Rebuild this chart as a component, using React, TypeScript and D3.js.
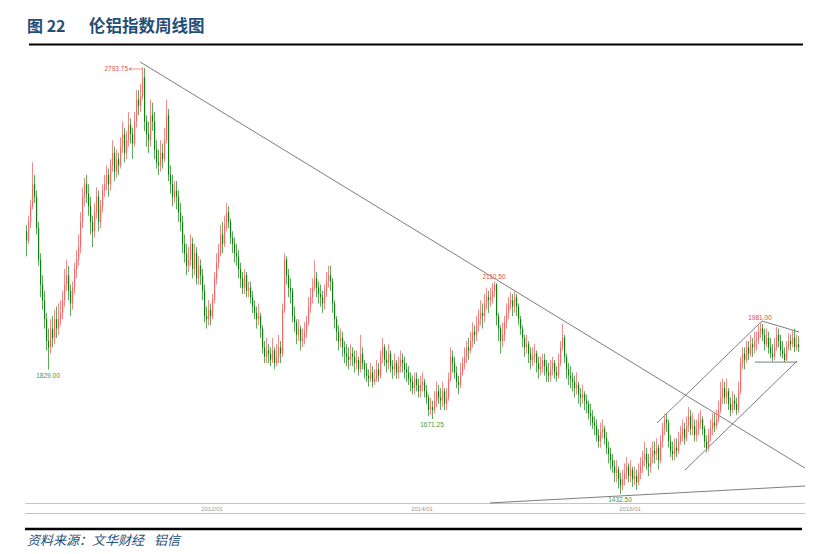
import React from "react";
import * as d3 from "d3";

// Weekly LME aluminium index, candle index 0 = 2010/03 week
const closes = [
2240,2300,2350,2420,2380,2280,2180,2100,2050,1990,1920,1900,1960,1930,1990,1960,1990,2010,2050,2100,
2130,2080,2040,2090,2150,2180,2220,2300,2380,2420,2390,2350,2300,2270,2330,2380,2300,2350,2400,2420,
2450,2420,2480,2520,2460,2500,2480,2540,2580,2520,2560,2610,2580,2550,2620,2690,2670,2700,2760,2620,
2580,2560,2640,2620,2530,2490,2480,2520,2500,2560,2640,2450,2420,2380,2400,2380,2330,2300,2230,2200,
2160,2180,2230,2150,2200,2120,2160,2130,2080,2000,1990,2020,2000,2050,2120,2170,2200,2260,2230,2290,
2330,2300,2250,2230,2200,2190,2150,2120,2090,2130,2080,2090,2060,2030,2010,1990,2000,1960,1900,1870,
1890,1880,1860,1890,1850,1870,1900,1880,2020,2180,2130,2090,2080,2000,1980,1940,1960,1920,1930,1950,
1980,2030,2060,2090,2120,2090,2070,2060,2040,2080,2110,2130,2110,2040,1990,1950,1920,1930,1900,1880,
1870,1860,1880,1870,1850,1860,1830,1880,1850,1830,1810,1800,1820,1790,1800,1830,1810,1870,1900,1860,
1850,1880,1840,1830,1850,1820,1840,1860,1850,1830,1820,1800,1790,1770,1800,1780,1760,1780,1790,1760,
1740,1700,1710,1700,1730,1760,1740,1730,1760,1720,1740,1800,1870,1850,1820,1790,1780,1820,1850,1870,
1900,1890,1920,1950,1940,1970,1990,2010,2000,2040,2060,2050,2060,2080,2100,2000,1960,1920,1940,1980,
2010,2040,2050,2030,2060,2030,1990,1960,1930,1900,1910,1880,1860,1870,1880,1850,1830,1840,1860,1840,
1820,1810,1830,1850,1820,1810,1850,1900,1930,1870,1830,1810,1800,1790,1770,1780,1750,1740,1750,1730,
1720,1690,1680,1660,1650,1620,1600,1630,1640,1610,1580,1560,1540,1520,1500,1510,1480,1460,1480,1500,
1520,1490,1510,1480,1490,1470,1500,1520,1540,1560,1530,1520,1550,1570,1560,1580,1540,1600,1640,1670,
1660,1600,1570,1560,1580,1570,1600,1620,1640,1610,1650,1680,1640,1650,1620,1640,1660,1670,1640,1600,
1580,1620,1640,1660,1650,1670,1700,1740,1770,1740,1760,1720,1700,1730,1720,1700,1760,1850,1880,1860,
1900,1880,1910,1900,1920,1925,1950,1960,1940,1910,1930,1900,1880,1870,1900,1940,1920,1890,1880,1860,
1900,1920,1910,1930,1900,1910,1900];

const highs = [
2290,2320,2370,2490,2450,2400,2300,2200,2130,2080,2010,1960,1990,2000,2020,2030,2040,2050,2080,2150,
2180,2160,2100,2110,2170,2210,2260,2330,2410,2440,2450,2420,2380,2320,2360,2410,2400,2370,2420,2450,
2480,2470,2500,2560,2540,2530,2520,2570,2620,2600,2590,2650,2630,2600,2650,2720,2720,2740,2793.75,2790,
2640,2620,2690,2680,2650,2560,2530,2560,2550,2600,2690,2660,2480,2450,2430,2430,2400,2360,2320,2260,
2230,2220,2260,2250,2230,2220,2190,2180,2150,2100,2030,2050,2040,2070,2140,2200,2230,2290,2300,2320,
2360,2350,2310,2270,2250,2230,2210,2170,2140,2150,2140,2110,2110,2080,2050,2030,2040,2010,1970,1920,
1930,1910,1900,1930,1900,1910,1940,1920,2040,2200,2190,2150,2120,2090,2030,1990,1990,1970,1960,1980,
2000,2060,2090,2120,2177,2140,2110,2100,2080,2100,2140,2160,2160,2120,2050,2000,1970,1960,1950,1920,
1910,1900,1910,1900,1890,1890,1870,1940,1900,1860,1850,1830,1850,1840,1830,1860,1850,1890,1930,1910,
1890,1910,1890,1860,1880,1860,1870,1890,1880,1870,1850,1840,1820,1810,1820,1820,1800,1810,1820,1800,
1780,1750,1740,1730,1760,1790,1780,1770,1790,1770,1770,1820,1900,1890,1870,1840,1810,1850,1870,1900,
1920,1930,1950,1980,1970,2000,2020,2050,2040,2070,2090,2080,2090,2105,2110.5,2105,2010,1970,1980,2000,
2040,2060,2075,2070,2080,2070,2040,2000,1970,1940,1940,1920,1900,1900,1910,1890,1870,1870,1880,1880,
1860,1850,1860,1870,1860,1840,1880,1920,1975,1940,1880,1850,1840,1820,1810,1820,1790,1770,1780,1760,
1750,1730,1720,1700,1680,1670,1640,1660,1670,1650,1630,1600,1580,1560,1540,1540,1520,1500,1510,1530,
1550,1530,1540,1520,1520,1510,1530,1550,1570,1600,1580,1560,1580,1600,1600,1610,1590,1620,1660,1688,
1690,1670,1620,1600,1610,1610,1630,1650,1670,1660,1680,1710,1700,1690,1670,1670,1690,1700,1680,1650,
1620,1640,1670,1690,1690,1700,1730,1790,1800,1790,1800,1770,1740,1760,1750,1740,1790,1870,1900,1900,
1920,1920,1940,1930,1950,1950,1970,1981,1975,1960,1960,1950,1930,1910,1930,1965,1960,1940,1920,1900,
1920,1945,1940,1955,1960,1940,1935];

const lows = [
2190,2230,2280,2340,2360,2260,2160,2060,2020,1960,1890,1829,1880,1900,1910,1930,1940,1970,1990,2030,
2080,2050,2000,2020,2070,2120,2160,2200,2280,2350,2360,2320,2260,2220,2250,2310,2270,2280,2330,2380,
2400,2380,2400,2460,2430,2440,2450,2470,2520,2490,2500,2540,2550,2500,2540,2600,2640,2650,2690,2590,
2540,2520,2540,2590,2500,2470,2450,2460,2470,2490,2550,2430,2390,2350,2360,2340,2300,2270,2200,2170,
2130,2140,2160,2120,2130,2100,2100,2100,2050,1980,1960,1970,1970,1990,2040,2100,2150,2190,2200,2220,
2270,2280,2230,2200,2170,2160,2120,2090,2070,2070,2060,2060,2040,2010,1990,1960,1970,1930,1880,1850,
1850,1850,1840,1850,1830,1840,1850,1850,1870,2010,2100,2060,2040,1980,1950,1910,1920,1890,1900,1910,
1930,1970,2010,2040,2080,2060,2040,2030,2010,2020,2060,2090,2080,2010,1960,1920,1890,1900,1870,1850,
1840,1830,1840,1840,1820,1830,1810,1820,1830,1800,1790,1775,1790,1772,1780,1790,1790,1800,1850,1840,
1820,1830,1820,1800,1810,1800,1800,1820,1820,1800,1790,1780,1760,1750,1750,1760,1740,1740,1760,1740,
1720,1680,1685,1671.25,1690,1710,1720,1700,1710,1700,1700,1730,1790,1820,1800,1770,1750,1770,1810,1830,
1850,1860,1880,1900,1910,1920,1950,1970,1960,1980,2020,2010,2030,2040,2060,1970,1920,1880,1900,1920,
1960,1990,2020,2000,2010,2000,1970,1940,1900,1870,1880,1850,1830,1840,1850,1820,1800,1810,1820,1810,
1790,1790,1790,1810,1800,1790,1800,1840,1890,1850,1800,1780,1770,1760,1740,1750,1720,1710,1720,1700,
1690,1670,1650,1640,1620,1600,1580,1580,1610,1590,1560,1530,1510,1500,1470,1470,1450,1432.5,1445,1460,
1480,1470,1470,1455,1460,1445,1460,1480,1500,1520,1510,1490,1500,1530,1530,1540,1510,1530,1580,1620,
1630,1580,1550,1540,1540,1550,1560,1590,1600,1590,1600,1630,1620,1620,1600,1600,1620,1640,1620,1580,
1565,1570,1600,1620,1630,1640,1660,1690,1720,1720,1720,1700,1680,1690,1700,1685,1690,1750,1830,1830,
1850,1860,1870,1870,1880,1890,1910,1930,1920,1890,1900,1880,1865,1855,1860,1890,1900,1870,1865,1852,
1855,1890,1890,1900,1885,1890,1885];

const firstOpen = 2270;

// Extreme-point labels: candle index, price, label, placement
const markIdx = [58, 11, 234, 203, 297, 367];
const markPrice = [2793.75, 1829, 2110.5, 1671.25, 1432.5, 1981];
const markText = ["2793.75", "1829.00", "2110.50", "1671.25", "1432.50", "1981.00"];
const markKind = ["arrow", "low", "high", "low", "low", "high"];

// Hand-drawn trend lines: [index1, price1, index2, price2]
const trendLines = [
  [57, 2810, 389.5, 1515],
  [232, 1404, 389.5, 1458],
  [315.5, 1659, 368, 1984],
  [329.5, 1509, 385.5, 1856],
  [368, 1984, 386.5, 1949],
  [364.5, 1853, 385.5, 1853],
];

const tickLabels = ["2012/01", "2014/01", "2016/01"];
const tickIdx = [93, 198, 302];

const RED = "#f46a6a";
const GREEN = "#0f7f12";
const RED_WICK = "#f58a8a";
const GREEN_WICK = "#5ea85e";
const BLUE = "#1f4e79";

export default function App() {
  const W = 839, H = 554;
  const x = d3.scaleLinear().domain([0, closes.length - 1]).range([26, 798]);
  const y = d3.scaleLinear().domain([1432.5, 2793.75]).range([494, 67]);
  const opens = closes.map((c, i) => (i === 0 ? firstOpen : closes[i - 1]));
  const small = "'Liberation Sans', Arial, sans-serif";
  const cjk = "'Noto Sans CJK SC', sans-serif";

  return (
    <svg width={W} height={H} style={{ position: "absolute", left: 0, top: 0, background: "#fff" }}>
      <rect x={0} y={0} width={W} height={H} fill="#fff" />
      {/* title */}
      <text x={27} y={32} fontFamily={cjk} fontWeight="bold" fontSize={16} fill={BLUE}>图 22</text>
      <text x={89} y={32} fontFamily={cjk} fontWeight="bold" fontSize={16.5} fill={BLUE}>伦铝指数周线图</text>
      <line x1={29} x2={803} y1={44.5} y2={44.5} stroke="#000" strokeWidth={2.2} />

      {/* axis */}
      <line x1={25} x2={805} y1={503.5} y2={503.5} stroke="#c4c4c4" strokeWidth={1} />
      <line x1={25} x2={805} y1={513.5} y2={513.5} stroke="#c4c4c4" strokeWidth={1} />
      {tickLabels.map((t, k) => (
        <text key={t} x={x(tickIdx[k])} y={510.5} textAnchor="middle" fontFamily={small} fontSize={6} fill="#9a9a9a">{t}</text>
      ))}

      {/* trend lines */}
      {trendLines.map((l, k) => (
        <line key={k} x1={x(l[0])} y1={y(l[1])} x2={x(l[2])} y2={y(l[3])} stroke="#6e6e6e" strokeWidth={0.9} />
      ))}

      {/* candles */}
      {closes.map((c, i) => {
        const o = opens[i];
        const up = c >= o;
        const cx = x(i);
        const top = y(Math.max(o, c));
        const bot = y(Math.min(o, c));
        return (
          <g key={i}>
            <line x1={cx + 0.5} x2={cx + 0.5} y1={y(highs[i])} y2={y(lows[i])} stroke={up ? RED_WICK : GREEN_WICK} strokeWidth={1} />
            <rect x={cx} width={1.2} y={top} height={Math.max(0.8, bot - top)} fill={up ? RED : GREEN} />
          </g>
        );
      })}

      {/* extreme labels */}
      {markIdx.map((mi, k) => {
        const cx = x(mi);
        const kind = markKind[k];
        const isLow = kind === "low";
        const col = isLow ? "#3f9a3f" : "#e04848";
        if (kind === "arrow") {
          const yy = y(markPrice[k]) + 2;
          return (
            <g key={k}>
              <text x={cx - 14} y={yy + 2} textAnchor="end" fontFamily={small} fontSize={6.5} fill={col}>{markText[k]}</text>
              <line x1={cx - 13} x2={cx} y1={yy} y2={yy} stroke={col} strokeWidth={0.6} />
              <path d={`M${cx - 13},${yy} l2.5,-1.5 M${cx - 13},${yy} l2.5,1.5`} stroke={col} strokeWidth={0.6} fill="none" />
            </g>
          );
        }
        const ty = isLow ? y(markPrice[k]) + 8 : y(markPrice[k]) - 2;
        return (
          <text key={k} x={cx} y={ty} textAnchor="middle" fontFamily={small} fontSize={6.5} fill={col}>{markText[k]}</text>
        );
      })}

      {/* footer */}
      <line x1={25} x2={802} y1={529} y2={529} stroke="#000" strokeWidth={2.4} />
      <text x={27} y={545} fontFamily={cjk} fontStyle="italic" fontSize={13} fill={BLUE}>资料来源：文华财经</text>
      <text x={154} y={545} fontFamily={cjk} fontStyle="italic" fontSize={13} fill={BLUE}>铝信</text>
    </svg>
  );
}
